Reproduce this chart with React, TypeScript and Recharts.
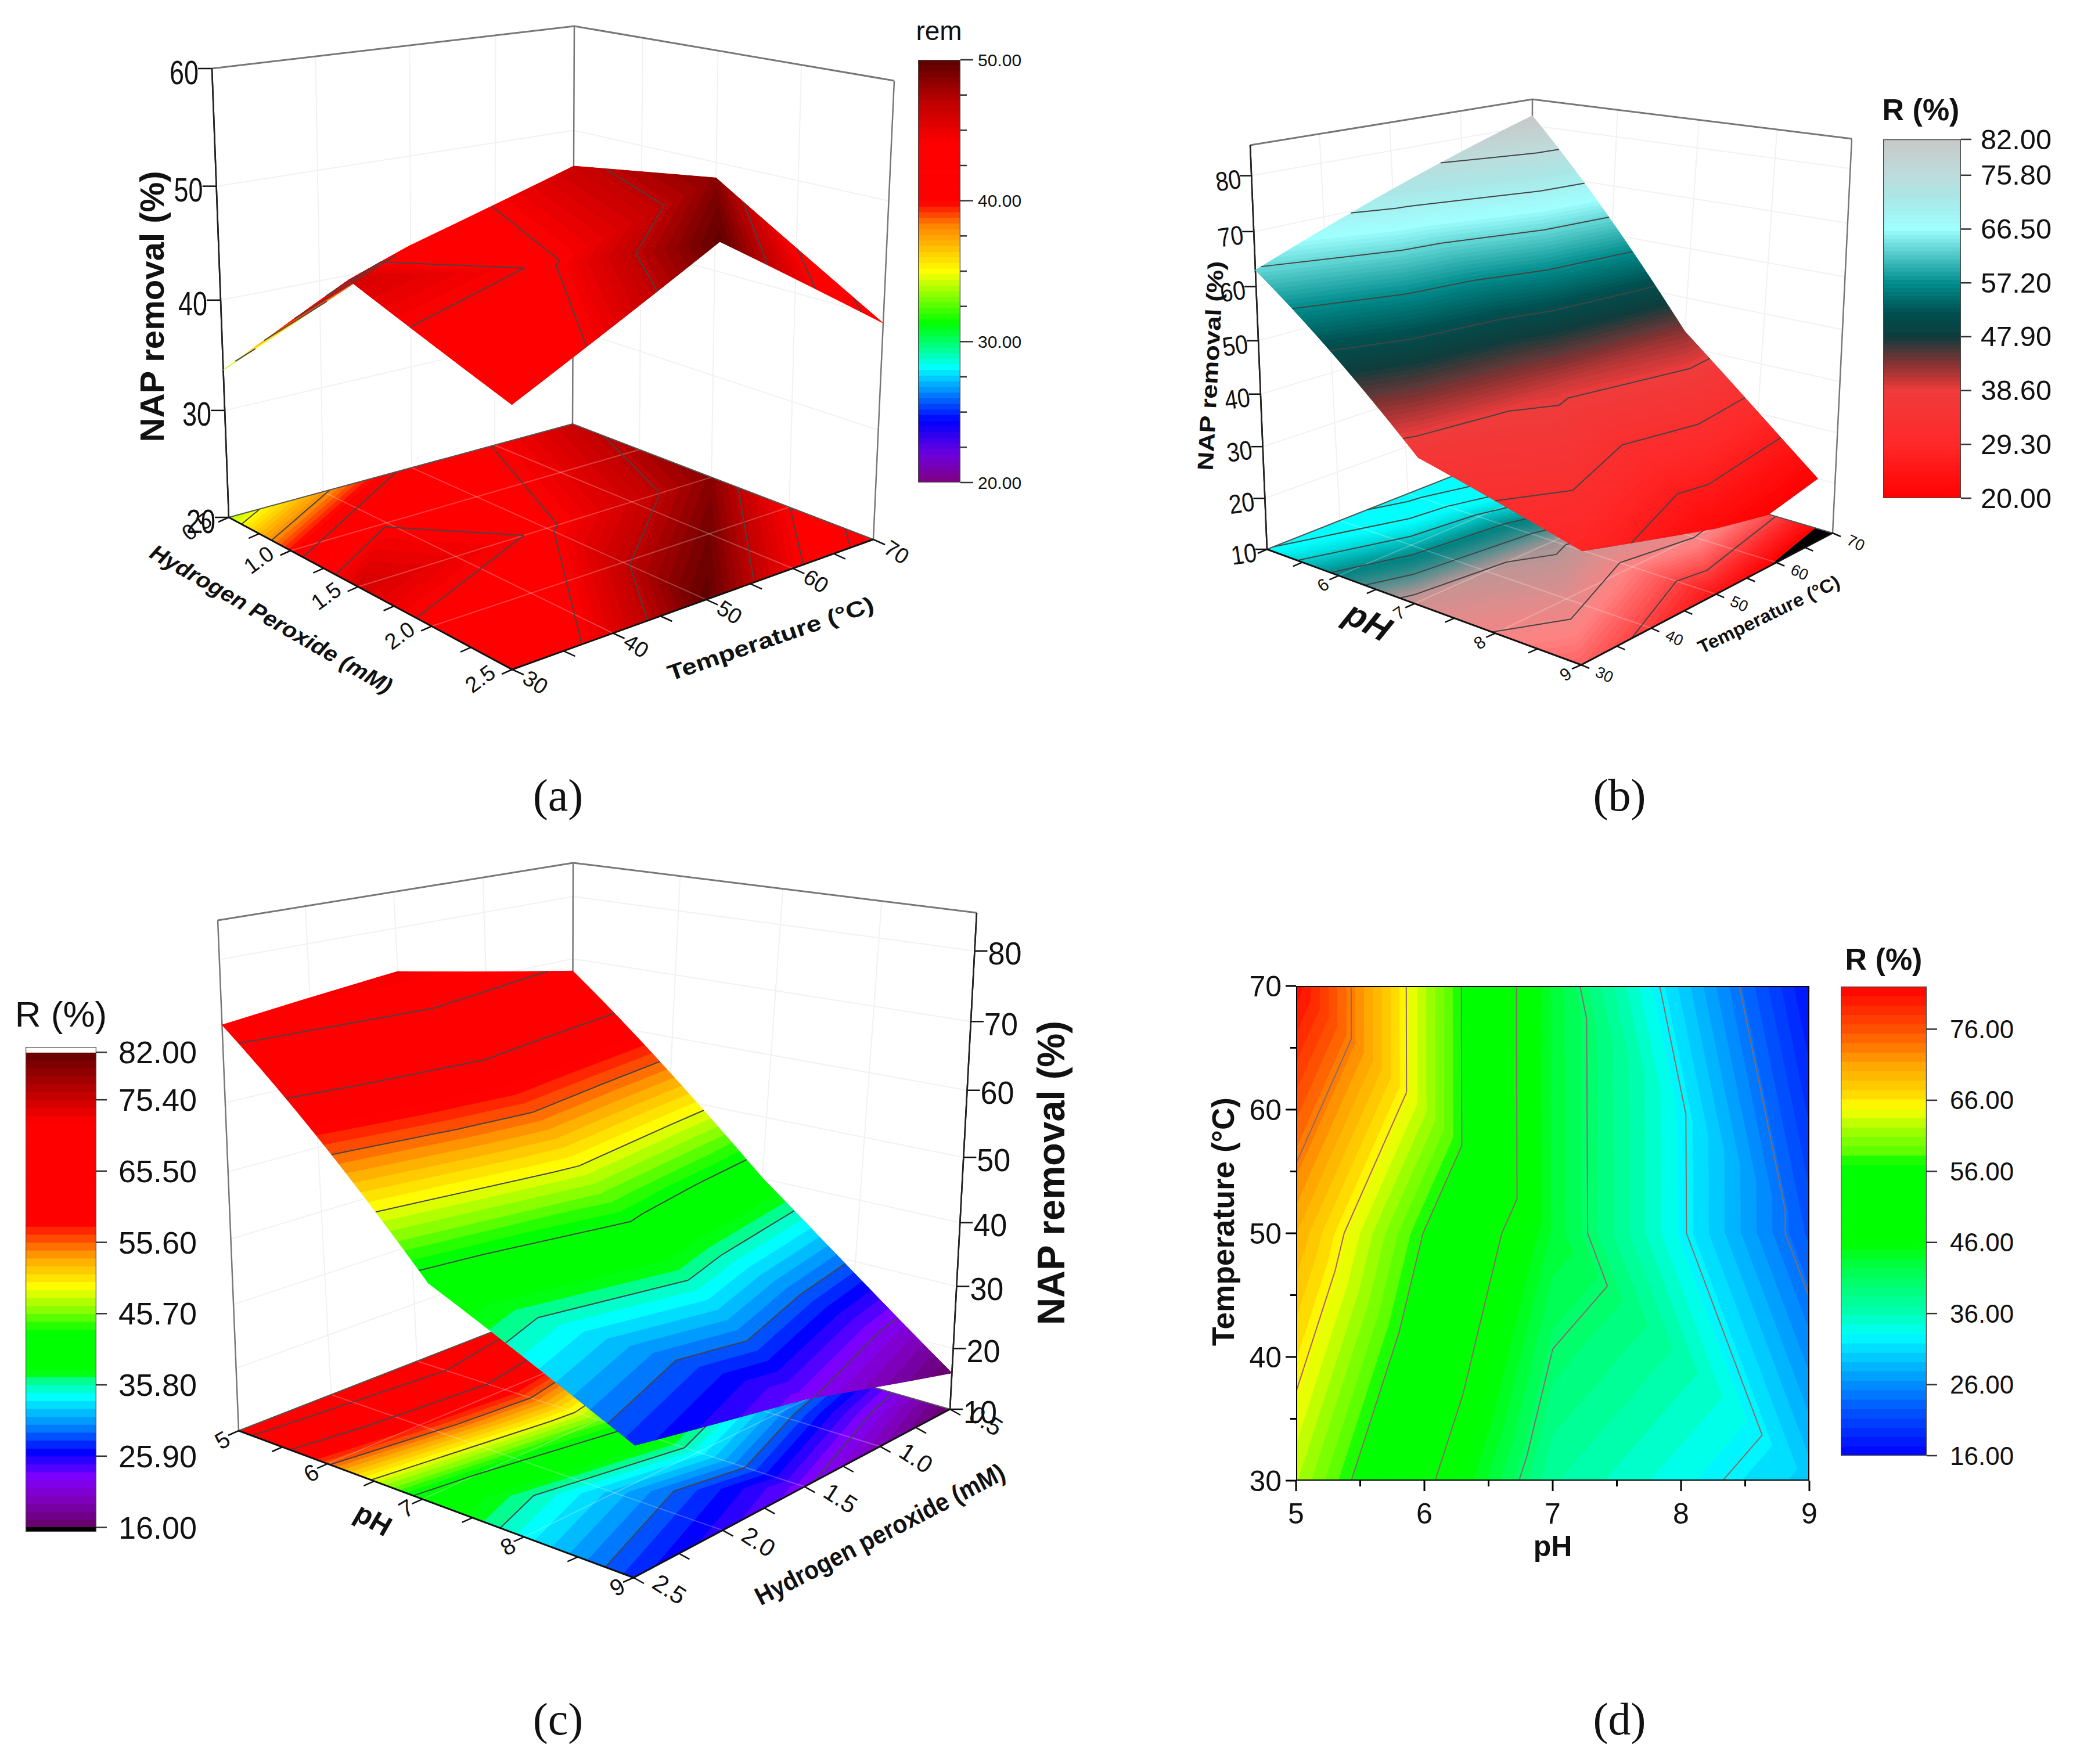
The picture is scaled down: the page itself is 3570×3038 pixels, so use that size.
import { ScatterChart, Scatter, XAxis, YAxis } from 'recharts';

const FONT = '"Liberation Sans", Arial, sans-serif';

// axis values of the measured grids
const H2O2 = [0.5, 1.5, 2.5];
const H2O2_REV = [2.5, 1.5, 0.5];
const PH = [5, 7, 9];
const TEMP = [30, 50, 70];

// NAP removal, one row per x value
const removalA = [
  [33.7, 41.7, 46.5],
  [46, 43.7, 48.6],
  [41, 49.8, 39.5],
];
const removalB = [
  [63, 72.5, 82],
  [36, 40, 43],
  [28.5, 22, 17.3],
];
const removalC = [
  [71, 73.5, 68],
  [41, 45.6, 40],
  [27.5, 23, 16],
];
const removalD = [
  [62.4, 70.2, 81.6],
  [37.3, 43.5, 43.4],
  [29.9, 22.2, 17],
];

// colour scales: value, r, g, b
const stopsA = [
  [20, 128, 0, 128], [22, 110, 0, 220], [24.4, 0, 0, 255], [28.2, 0, 255, 255], [29.3, 0, 255, 160],
  [31.3, 0, 255, 0], [35, 255, 255, 0], [38.3, 255, 130, 0], [39.9, 255, 0, 0], [44, 255, 0, 0],
  [47, 190, 0, 0], [50, 90, 0, 0],
];
const stopsB = [
  [20, 255, 0, 0], [29.3, 255, 40, 40], [38.6, 240, 60, 60], [43, 140, 50, 50], [47.9, 15, 60, 60],
  [52, 0, 80, 80], [57.2, 0, 140, 140], [62, 80, 200, 200], [66.5, 160, 255, 255], [72, 170, 230, 230],
  [75.8, 190, 220, 220], [82, 200, 200, 200],
];
const floorStopsB = [
  [19.9, 0, 0, 0], [20, 255, 0, 0], [24, 255, 40, 40], [31, 255, 130, 130], [38, 190, 150, 150],
  [45, 60, 140, 140], [50, 0, 130, 130], [58, 0, 220, 220], [62, 0, 255, 255], [82, 0, 255, 255],
];
const stopsC = [
  [16, 100, 0, 100], [20, 128, 0, 190], [23, 128, 0, 255], [26.5, 0, 0, 255], [30, 0, 130, 255],
  [34.2, 0, 255, 255], [36.2, 0, 255, 160], [37.6, 0, 255, 0], [43.2, 0, 255, 0], [46, 128, 255, 0],
  [49.4, 255, 255, 0], [53.6, 255, 160, 0], [58.4, 255, 0, 0], [72.3, 255, 0, 0], [82, 100, 0, 0],
];
const stopsD = [
  [16, 0, 0, 255], [22, 0, 80, 255], [26, 0, 140, 255], [31, 0, 220, 255], [33, 0, 255, 255],
  [36, 0, 255, 180], [42, 0, 255, 80], [46, 0, 255, 0], [57, 0, 255, 0], [59, 100, 255, 0],
  [61, 140, 255, 0], [65, 255, 255, 0], [67, 255, 215, 0], [71, 255, 165, 0], [76, 255, 80, 0], [82, 255, 0, 0],
];

// contour levels
const levelsA = [23, 26, 29, 32, 35, 38, 41, 44, 47];
const levelsB = [26.2, 32.4, 38.6, 44.8, 51, 57.2, 63.4, 69.6, 75.8];
const levelsC = [22.6, 29.2, 35.8, 42.4, 49, 55.6, 62.2, 68.8];
const levelsD = [24.2, 32.4, 40.6, 48.8, 57, 65.2, 73.4];

// colour bar ticks
const barTicksA = [20, 30, 40, 50];
const barMinorA = [22.5, 25, 27.5, 32.5, 35, 37.5, 42.5, 45, 47.5];
const barTicksB = [20, 29.3, 38.6, 47.9, 57.2, 66.5, 75.8, 82];
const barTicksC = [16, 25.9, 35.8, 45.7, 55.6, 65.5, 75.4, 82];
const barTicksD = [16, 26, 36, 46, 56, 66, 76];

// axis ticks
const H2O2_TICKS = [0.5, 1, 1.5, 2, 2.5];
const H2O2_MINOR = [0.5, 0.75, 1, 1.25, 1.5, 1.75, 2, 2.25, 2.5];
const PH_TICKS = [5, 6, 7, 8, 9];
const PH_MINOR = [5, 5.5, 6, 6.5, 7, 7.5, 8, 8.5, 9];
const TEMP_TICKS = [30, 40, 50, 60, 70];
const TEMP_MINOR = [30, 35, 40, 45, 50, 55, 60, 65, 70];

function colorAt(stops: number[][], z: number) {
  if (z <= stops[0][0]) return `rgb(${stops[0][1]},${stops[0][2]},${stops[0][3]})`;
  for (let i = 1; i < stops.length; i++) {
    if (z <= stops[i][0]) {
      const a = stops[i - 1], b = stops[i];
      const t = (z - a[0]) / (b[0] - a[0]);
      return `rgb(${Math.round(a[1] + t * (b[1] - a[1]))},${Math.round(a[2] + t * (b[2] - a[2]))},${Math.round(a[3] + t * (b[3] - a[3]))})`;
    }
  }
  const l = stops[stops.length - 1];
  return `rgb(${l[1]},${l[2]},${l[3]})`;
}

type V = { u: number; v: number; z: number };

function triangles(xs: number[], ys: number[], zs: number[][], diag: string) {
  const U = (i: number) => (xs[i] - xs[0]) / (xs[xs.length - 1] - xs[0]);
  const W = (j: number) => (ys[j] - ys[0]) / (ys[ys.length - 1] - ys[0]);
  const out: V[][] = [];
  for (let i = 0; i < xs.length - 1; i++) {
    for (let j = 0; j < ys.length - 1; j++) {
      const a = { u: U(i), v: W(j), z: zs[i][j] };
      const b = { u: U(i + 1), v: W(j), z: zs[i + 1][j] };
      const c = { u: U(i + 1), v: W(j + 1), z: zs[i + 1][j + 1] };
      const d = { u: U(i), v: W(j + 1), z: zs[i][j + 1] };
      if (diag === 'ac') out.push([a, b, c], [a, c, d]);
      else out.push([a, b, d], [b, c, d]);
    }
  }
  return out;
}

function clip(poly: V[], level: number, above: boolean) {
  const out: V[] = [];
  const inside = (p: V) => (above ? p.z >= level : p.z <= level);
  for (let i = 0; i < poly.length; i++) {
    const a = poly[i], b = poly[(i + 1) % poly.length];
    if (inside(a)) out.push(a);
    if (inside(a) !== inside(b)) {
      const t = (level - a.z) / (b.z - a.z);
      out.push({ u: a.u + t * (b.u - a.u), v: a.v + t * (b.v - a.v), z: level });
    }
  }
  return out;
}

// filled iso-bands of a grid, painted from the back corner to the front one
function bands(xs: number[], ys: number[], zs: number[][], diag: string, step: number, base: number) {
  const out: { poly: V[]; mid: number; depth: number }[] = [];
  for (const tri of triangles(xs, ys, zs, diag)) {
    const lo = Math.min(...tri.map((p) => p.z)), hi = Math.max(...tri.map((p) => p.z));
    const first = base + Math.floor((lo - base) / step) * step;
    for (let l = first; l < hi; l += step) {
      const poly = clip(clip(tri, l, true), l + step, false);
      if (poly.length < 3) continue;
      const depth = poly.reduce((s, p) => s + p.u - p.v, 0) / poly.length;
      out.push({ poly, mid: l + step / 2, depth });
    }
  }
  return out.sort((a, b) => a.depth - b.depth);
}

function contours(xs: number[], ys: number[], zs: number[][], diag: string, levels: number[]) {
  const out: V[][] = [];
  for (const tri of triangles(xs, ys, zs, diag)) {
    for (const l of levels) {
      const pts: V[] = [];
      for (let i = 0; i < 3; i++) {
        const a = tri[i], b = tri[(i + 1) % 3];
        if (a.z < l !== b.z < l) {
          const t = (l - a.z) / (b.z - a.z);
          pts.push({ u: a.u + t * (b.u - a.u), v: a.v + t * (b.v - a.v), z: l });
        }
      }
      if (pts.length === 2) out.push(pts);
    }
  }
  return out;
}

function homography(q: number[][]) {
  const [[x0, y0], [x1, y1], [x2, y2], [x3, y3]] = q;
  const dx1 = x1 - x2, dx2 = x3 - x2, sx = x0 - x1 + x2 - x3;
  const dy1 = y1 - y2, dy2 = y3 - y2, sy = y0 - y1 + y2 - y3;
  const den = dx1 * dy2 - dx2 * dy1;
  const g = (sx * dy2 - dx2 * sy) / den, h = (dx1 * sy - sx * dy1) / den;
  const a = x1 - x0 + g * x1, b = x3 - x0 + h * x3, d = y1 - y0 + g * y1, e = y3 - y0 + h * y3;
  return (u: number, v: number) => {
    const w = g * u + h * v + 1;
    return [(a * u + b * v + x0) / w, (d * u + e * v + y0) / w];
  };
}

type Mark = {
  x: number; y: number; kind: 'poly' | 'line' | 'text';
  pts?: number[][]; fill?: string; stroke?: string; sw?: number;
  text?: string; size?: number; rot?: number; weight?: string; len?: number; family?: string; italic?: boolean;
};

const polyMark = (pts: number[][], fill: string): Mark => {
  const x = pts.reduce((s, p) => s + p[0], 0) / pts.length;
  const y = pts.reduce((s, p) => s + p[1], 0) / pts.length;
  return { x, y, kind: 'poly', fill, pts: pts.map((p) => [p[0] - x, p[1] - y]) };
};
const lineMark = (pts: number[][], stroke: string, sw: number): Mark => {
  const x = pts[0][0], y = pts[0][1];
  return { x, y, kind: 'line', stroke, sw, pts: pts.map((p) => [p[0] - x, p[1] - y]) };
};
const textMark = (text: string, x: number, y: number, size: number, extra: Partial<Mark> = {}): Mark => ({
  x, y, kind: 'text', text, size, ...extra,
});

function renderMark(props: any) {
  const { cx, cy, payload: m } = props;
  if (m.kind === 'text') {
    return (
      <text
        x={cx} y={cy} fontSize={m.size} fontFamily={m.family || FONT} fontWeight={m.weight || 'normal'}
        fontStyle={m.italic ? 'italic' : 'normal'} fill="#111" textAnchor="middle" dominantBaseline="central"
        transform={m.rot ? `rotate(${m.rot} ${cx} ${cy})` : undefined}
        textLength={m.len} lengthAdjust={m.len ? 'spacingAndGlyphs' : undefined}
      >
        {m.text}
      </text>
    );
  }
  const pts = m.pts.map((p: number[]) => `${cx + p[0]},${cy + p[1]}`).join(' ');
  if (m.kind === 'line') return <polyline points={pts} fill="none" stroke={m.stroke} strokeWidth={m.sw} />;
  return <polygon points={pts} fill={m.fill} stroke={m.fill} strokeWidth={1} />;
}

function buildPanel(c: any) {
  const floor = homography(c.floor), top = homography(c.top);
  const zw = (z: number) => {
    const w = (z - c.zRange[0]) / (c.zRange[1] - c.zRange[0]);
    return w / (1 + c.persp * (1 - w));
  };
  const at = (u: number, v: number, w: number) => {
    const a = floor(u, v), b = top(u, v);
    return [a[0] + w * (b[0] - a[0]), a[1] + w * (b[1] - a[1])];
  };
  const U = (x: number) => (x - c.xs[0]) / (c.xs[c.xs.length - 1] - c.xs[0]);
  const W = (y: number) => (y - c.ys[0]) / (c.ys[c.ys.length - 1] - c.ys[0]);
  const marks: Mark[] = [];
  const wall = '#f1f1f1', frame = '#777';

  // walls
  for (const z of c.zTicks) {
    marks.push(lineMark([at(0, 0, zw(z)), at(0, 1, zw(z)), at(1, 1, zw(z))], wall, 2));
  }
  for (const y of c.vTicks) marks.push(lineMark([at(0, W(y), 0), at(0, W(y), 1)], wall, 2));
  for (const x of c.uTicks) marks.push(lineMark([at(U(x), 1, 0), at(U(x), 1, 1)], wall, 2));
  marks.push(lineMark([at(0, 0, 1), at(0, 1, 1), at(1, 1, 1)], frame, 3));
  marks.push(lineMark([at(0, 1, 0), at(0, 1, 1)], frame, 2.5));
  marks.push(lineMark([at(0, 0, 0), at(0, 0, 1)], c.zCorner[0] === 0 ? '#222' : frame, 2.5));
  marks.push(lineMark([at(1, 1, 0), at(1, 1, 1)], c.zCorner[0] === 1 ? '#222' : frame, 2.5));

  // floor map
  const floorStops = c.floorStops || c.stops;
  for (const b of bands(c.xs, c.ys, c.zs, c.diag, c.step, c.base)) {
    marks.push(polyMark(b.poly.map((p) => floor(p.u, p.v)), colorAt(floorStops, b.mid)));
  }
  for (const x of c.uTicks) marks.push(lineMark([floor(U(x), 0), floor(U(x), 1)], 'rgba(255,255,255,0.25)', 2));
  for (const y of c.vTicks) marks.push(lineMark([floor(0, W(y)), floor(1, W(y))], 'rgba(255,255,255,0.25)', 2));
  for (const s of contours(c.xs, c.ys, c.zs, c.diag, c.levels)) {
    marks.push(lineMark(s.map((p) => floor(p.u, p.v)), '#444', 2));
  }
  marks.push(lineMark([floor(1, 1), floor(0, 1), floor(0, 0)], '#555', 2));
  marks.push(lineMark([floor(0, 0), floor(1, 0), floor(1, 1)], '#111', 3));

  // ticks on the floor edges and on the value axis
  const ticks = (vals: number[], fn: (t: number) => number[], d: number[]) => {
    for (const t of vals) {
      const p = fn(t);
      marks.push(lineMark([p, [p[0] + d[0], p[1] + d[1]]], '#111', 2.5));
    }
  };
  ticks(c.uMinor, (t) => floor(U(t), 0), c.uTickDir);
  ticks(c.vMinor, (t) => floor(1, W(t)), c.vTickDir);
  ticks(c.zTicks, (z) => at(c.zCorner[0], c.zCorner[1], zw(z)), c.zTickDir);
  marks.push(lineMark([at(c.zCorner[0], c.zCorner[1], 0), at(c.zCorner[0], c.zCorner[1], 1)], '#222', 2.5));

  // surface, cut away below the lowest level of the scale
  const cut = c.surfaceMin ?? -Infinity;
  for (const b of bands(c.xs, c.ys, c.zs, c.diag, c.step, c.base)) {
    if (b.mid < cut) continue;
    marks.push(polyMark(b.poly.map((p) => at(p.u, p.v, zw(p.z))), colorAt(c.stops, b.mid)));
  }
  for (const s of contours(c.xs, c.ys, c.zs, c.diag, c.levels)) {
    marks.push(lineMark(s.map((p) => at(p.u, p.v, zw(p.z))), '#444', 2));
  }

  // tick labels
  for (const x of c.uLabels) {
    const p = floor(U(x), 0);
    marks.push(textMark(c.uFormat(x), p[0] + c.uLab.dx, p[1] + c.uLab.dy, c.uLab.size, { rot: c.uLab.rot }));
  }
  for (const y of c.vLabels) {
    const p = floor(1, W(y));
    marks.push(textMark(c.vFormat(y), p[0] + c.vLab.dx, p[1] + c.vLab.dy, c.vLab.size, { rot: c.vLab.rot }));
  }
  for (const z of c.zLabels) {
    const p = at(c.zCorner[0], c.zCorner[1], zw(z));
    marks.push(textMark(String(z), p[0] + c.zLab.dx, p[1] + c.zLab.dy, c.zLab.size, { rot: c.zLab.rot, len: c.zLab.len }));
  }
  for (const t of c.titles) marks.push(textMark(t.text, t.x, t.y, t.size, t));
  return marks;
}

const panelA = buildPanel({
  xs: H2O2, ys: TEMP, zs: removalA, diag: 'bd', zRange: [20, 60], persp: 0.066, stops: stopsA, step: 0.4, base: 20, levels: levelsA,
  floor: [[394, 891], [882, 1153], [1504, 929], [986, 730]],
  top: [[365, 118], [881, 257], [1540, 139], [989, 45]],
  zCorner: [0, 0], zTicks: [20, 30, 40, 50, 60], zLabels: [20, 30, 40, 50, 60], zTickDir: [-24, 0],
  zLab: { dx: -48, dy: 6, size: 58, len: 50 },
  uTicks: [1, 1.5, 2], uMinor: H2O2_MINOR, uLabels: H2O2_TICKS, uFormat: (x: number) => x.toFixed(1),
  uTickDir: [-18, 8], uLab: { dx: -55, dy: 16, size: 38, rot: -36 },
  vTicks: [40, 50, 60], vMinor: TEMP_MINOR, vLabels: TEMP_TICKS, vFormat: String,
  vTickDir: [20, 9], vLab: { dx: 40, dy: 22, size: 38, rot: 33 },
  titles: [
    { text: 'NAP removal (%)', x: 262, y: 528, size: 57, weight: 'bold', rot: -90, len: 467 },
    { text: 'Hydrogen Peroxide (mM)', x: 467, y: 1066, size: 38, weight: 'bold', rot: 30, len: 474, italic: true },
    { text: 'Temperature (°C)', x: 1327, y: 1100, size: 38, weight: 'bold', rot: -19, len: 373 },
  ],
});

const panelB = buildPanel({
  xs: PH, ys: TEMP, zs: removalB, diag: 'bd', zRange: [10, 85.4], persp: 0.06, stops: stopsB, floorStops: floorStopsB, step: 0.6, base: 20, levels: levelsB, surfaceMin: 20,
  floor: [[2182, 946], [2723, 1145], [3156, 918], [2638, 766]],
  top: [[2153, 250], [2730, 310], [3189, 239], [2639, 171]],
  zCorner: [0, 0], zTicks: [10, 20, 30, 40, 50, 60, 70, 80], zLabels: [10, 20, 30, 40, 50, 60, 70, 80], zTickDir: [-20, 0],
  zLab: { dx: -40, dy: 8, size: 46, len: 44, rot: -8 },
  uTicks: [6, 7, 8], uMinor: PH_MINOR, uLabels: [6, 7, 8, 9], uFormat: String,
  uTickDir: [-16, 7], uLab: { dx: -27, dy: 16, size: 30, rot: -35 },
  vTicks: [40, 50, 60], vMinor: TEMP_MINOR, vLabels: TEMP_TICKS, vFormat: String,
  vTickDir: [14, 6], vLab: { dx: 40, dy: 17, size: 27, rot: 25 },
  titles: [
    { text: 'NAP removal (%)', x: 2085, y: 630, size: 38, weight: 'bold', rot: -87, len: 361 },
    { text: 'pH', x: 2356, y: 1070, size: 60, weight: 'bold', rot: 28, italic: true },
    { text: 'Temperature (°C)', x: 3046, y: 1058, size: 32, weight: 'bold', rot: -26, len: 267 },
  ],
});

const panelC = buildPanel({
  xs: PH, ys: H2O2_REV, zs: removalC, diag: 'ac', zRange: [10, 85.3], persp: 0.1, stops: stopsC, step: 1.1, base: 16, levels: levelsC,
  floor: [[411, 2464], [1091, 2717], [1636, 2427], [985, 2240]],
  top: [[375, 1585], [1103, 1662], [1682, 1572], [987, 1486]],
  zCorner: [1, 1], zTicks: [10, 20, 30, 40, 50, 60, 70, 80], zLabels: [10, 20, 30, 40, 50, 60, 70, 80], zTickDir: [22, 0],
  zLab: { dx: 52, dy: 4, size: 56, len: 58 },
  uTicks: [6, 7, 8], uMinor: PH_MINOR, uLabels: PH_TICKS, uFormat: String,
  uTickDir: [-18, 8], uLab: { dx: -28, dy: 16, size: 40, rot: -30 },
  vTicks: [2, 1.5, 1], vMinor: H2O2_MINOR, vLabels: H2O2_TICKS, vFormat: (y: number) => y.toFixed(1),
  vTickDir: [18, 10], vLab: { dx: 62, dy: 20, size: 42, rot: 33 },
  titles: [
    { text: 'NAP removal (%)', x: 1810, y: 2020, size: 66, weight: 'bold', rot: -90, len: 524 },
    { text: 'pH', x: 643, y: 2617, size: 48, weight: 'bold', rot: 30 },
    { text: 'Hydrogen peroxide (mM)', x: 1515, y: 2642, size: 44, weight: 'bold', rot: -27.4, len: 478 },
  ],
});

const SERIF = '"Liberation Serif", "DejaVu Serif", serif';
const captions: Mark[] = [
  textMark('(a)', 961, 1369, 78, { family: SERIF }),
  textMark('(b)', 2789, 1369, 78, { family: SERIF }),
  textMark('(c)', 961, 2960, 78, { family: SERIF }),
  textMark('(d)', 2789, 2960, 78, { family: SERIF }),
  textMark('Temperature (°C)', 2106, 2104, 54, { weight: 'bold', rot: -90, len: 428 }),
];

// panel d: the plain contour map, in pH / temperature units
const D_W = 884, D_H = 852;
const mapMarks: Mark[] = bands(PH, TEMP, removalD, 'bd', 1.32, 16).map((b) => {
  const cu = b.poly.reduce((s, p) => s + p.u, 0) / b.poly.length;
  const cv = b.poly.reduce((s, p) => s + p.v, 0) / b.poly.length;
  return {
    x: 5 + 4 * cu, y: 30 + 40 * cv, kind: 'poly' as const, fill: colorAt(stopsD, b.mid),
    pts: b.poly.map((p) => [(p.u - cu) * D_W, -(p.v - cv) * D_H]),
  };
});
const mapLines: Mark[] = contours(PH, TEMP, removalD, 'bd', levelsD).map((s) => ({
  x: 5 + 4 * s[0].u, y: 30 + 40 * s[0].v, kind: 'line' as const, stroke: '#8a6a6a', sw: 2,
  pts: s.map((p) => [(p.u - s[0].u) * D_W, -(p.v - s[0].v) * D_H]),
}));
const mapFrame: Mark[] = [
  { x: 5, y: 30, kind: 'line', stroke: '#000', sw: 4, pts: [[0, 0], [D_W, 0], [D_W, -D_H], [0, -D_H], [0, 0]] },
];

function ContourMap() {
  const xTick = (p: any) => {
    const v = p.payload.value, major = Number.isInteger(v);
    return (
      <g>
        <line x1={p.x} x2={p.x} y1={p.y} y2={p.y + (major ? 18 : 10)} stroke="#000" strokeWidth={3} />
        {major && <text x={p.x} y={p.y + 74} textAnchor="middle" fontSize={50} fontFamily={FONT} fill="#111">{v}</text>}
      </g>
    );
  };
  const yTick = (p: any) => {
    const v = p.payload.value, major = v % 10 === 0;
    return (
      <g>
        <line x1={p.x} x2={p.x - (major ? 18 : 10)} y1={p.y} y2={p.y} stroke="#000" strokeWidth={3} />
        {major && <text x={p.x - 25} y={p.y + 18} textAnchor="end" fontSize={50} fontFamily={FONT} fill="#111">{v}</text>}
      </g>
    );
  };
  return (
    <div style={{ position: 'absolute', left: 2072, top: 1668 }}>
      <ScatterChart width={160 + D_W + 30} height={30 + D_H + 150} margin={{ top: 30, right: 30, bottom: 0, left: 0 }}>
        <XAxis
          type="number" dataKey="x" domain={[5, 9]} ticks={PH_MINOR} interval={0} height={150} tick={xTick}
          tickLine={false} axisLine={false} tickSize={0} tickMargin={0} allowDataOverflow
          label={{ value: 'pH', position: 'insideBottom', offset: 20, fontSize: 50, fontWeight: 'bold', fontFamily: FONT, fill: '#111' }}
        />
        <YAxis
          type="number" dataKey="y" domain={[30, 70]} ticks={TEMP_MINOR} interval={0} width={160} tick={yTick}
          tickLine={false} axisLine={false} tickSize={0} tickMargin={0} allowDataOverflow
        />
        <Scatter data={mapMarks} shape={renderMark} isAnimationActive={false} />
        <Scatter data={mapLines} shape={renderMark} isAnimationActive={false} />
        <Scatter data={mapFrame} shape={renderMark} isAnimationActive={false} />
      </ScatterChart>
    </div>
  );
}

function ColorBar(p: {
  left: number; top: number; w: number; h: number; range: number[]; stops: number[][]; step: number; ticks: number[];
  minor?: number[]; size: number; len: number; gap: number; digitsW?: number; domain?: number[]; caps?: boolean;
}) {
  const domain = p.domain || p.range;
  const perUnit = p.h / (domain[1] - domain[0]);
  const segs: Mark[] = [];
  const seg = (lo: number, hi: number, fill: string) => {
    const half = ((hi - lo) * perUnit) / 2;
    segs.push({
      x: 0.5, y: (lo + hi) / 2, kind: 'poly', fill,
      pts: [[-p.w / 2, -half], [p.w / 2, -half], [p.w / 2, half], [-p.w / 2, half]],
    });
  };
  const count = Math.round((p.range[1] - p.range[0]) / p.step);
  for (let i = 0; i < count; i++) {
    const lo = p.range[0] + i * p.step;
    seg(lo, lo + p.step, colorAt(p.stops, lo + p.step / 2));
  }
  if (p.caps) {
    seg(domain[0], p.range[0], '#000');
    seg(p.range[1], domain[1], '#fff');
  }
  const outline: Mark[] = [
    { x: 0, y: domain[0], kind: 'line', stroke: '#444', sw: 2.5, pts: [[0, 0], [p.w, 0], [p.w, -p.h], [0, -p.h], [0, 0]] },
  ];
  const all = [...p.ticks, ...(p.minor || [])];
  const tick = (t: any) => {
    const v = t.payload.value, major = p.ticks.includes(v);
    return (
      <g>
        <line x1={t.x} x2={t.x + (major ? p.len : p.len * 0.5)} y1={t.y} y2={t.y} stroke="#333" strokeWidth={2.5} />
        {major && (
          <text
            x={t.x + p.len + p.gap} y={t.y} dominantBaseline="central" fontSize={p.size} fontFamily={FONT} fill="#111"
            textLength={p.digitsW} lengthAdjust={p.digitsW ? 'spacingAndGlyphs' : undefined}
          >
            {v.toFixed(2)}
          </text>
        )}
      </g>
    );
  };
  return (
    <div style={{ position: 'absolute', left: p.left, top: p.top - 40 }}>
      <ScatterChart width={p.w + 190} height={p.h + 80} margin={{ top: 40, right: 0, bottom: 40, left: 0 }}>
        <XAxis type="number" dataKey="x" domain={[0, 1]} hide allowDataOverflow />
        <YAxis
          type="number" dataKey="y" orientation="right" domain={domain} ticks={all} interval={0} width={190} tick={tick}
          tickLine={false} axisLine={false} tickSize={0} tickMargin={0} allowDataOverflow
        />
        <Scatter data={segs} shape={renderMark} isAnimationActive={false} />
        <Scatter data={outline} shape={renderMark} isAnimationActive={false} />
      </ScatterChart>
    </div>
  );
}

const heading = (text: string, x: number, y: number, size: number, weight: string) => (
  <div style={{ position: 'absolute', left: x, top: y, fontFamily: FONT, fontSize: size, fontWeight: weight, lineHeight: 1, whiteSpace: 'nowrap', color: '#111', transform: 'translateX(-50%)' }}>
    {text}
  </div>
);

export default function App() {
  return (
    <div style={{ position: 'absolute', left: 0, top: 0, width: 3570, height: 3038, background: '#fff', overflow: 'hidden' }}>
      <div style={{ position: 'absolute', left: 0, top: 0 }}>
        <ScatterChart width={3570} height={3038} margin={{ top: 0, right: 0, bottom: 0, left: 0 }}>
          <XAxis type="number" dataKey="x" domain={[0, 3570]} hide allowDataOverflow />
          <YAxis type="number" dataKey="y" domain={[0, 3038]} reversed hide allowDataOverflow />
          <Scatter data={panelA} shape={renderMark} isAnimationActive={false} />
          <Scatter data={panelB} shape={renderMark} isAnimationActive={false} />
          <Scatter data={panelC} shape={renderMark} isAnimationActive={false} />
          <Scatter data={captions} shape={renderMark} isAnimationActive={false} />
        </ScatterChart>
      </div>
      <ContourMap />
      <ColorBar left={1581} top={103} w={73} h={728} range={[20, 50]} stops={stopsA} step={0.4} ticks={barTicksA} minor={barMinorA} size={30} len={22} gap={8} />
      <ColorBar left={3243} top={240} w={134} h={618} range={[20, 82]} stops={stopsB} step={0.7} ticks={barTicksB} size={48} len={18} gap={16} digitsW={122} />
      <ColorBar left={44} top={1803} w={122} h={835} range={[16, 82]} stops={stopsC} step={1.1} ticks={barTicksC} size={54} len={18} gap={20} domain={[15.4, 82.75]} caps />
      <ColorBar left={3170} top={1699} w={148} h={808} range={[16, 82]} stops={stopsD} step={1.32} ticks={barTicksD} size={44} len={18} gap={22} />
      {heading('rem', 1617, 30, 46, 'normal')}
      {heading('R (%)', 3308, 163, 52, 'bold')}
      {heading('R (%)', 105, 1716, 62, 'normal')}
      {heading('R (%)', 3244, 1626, 52, 'bold')}
    </div>
  );
}
